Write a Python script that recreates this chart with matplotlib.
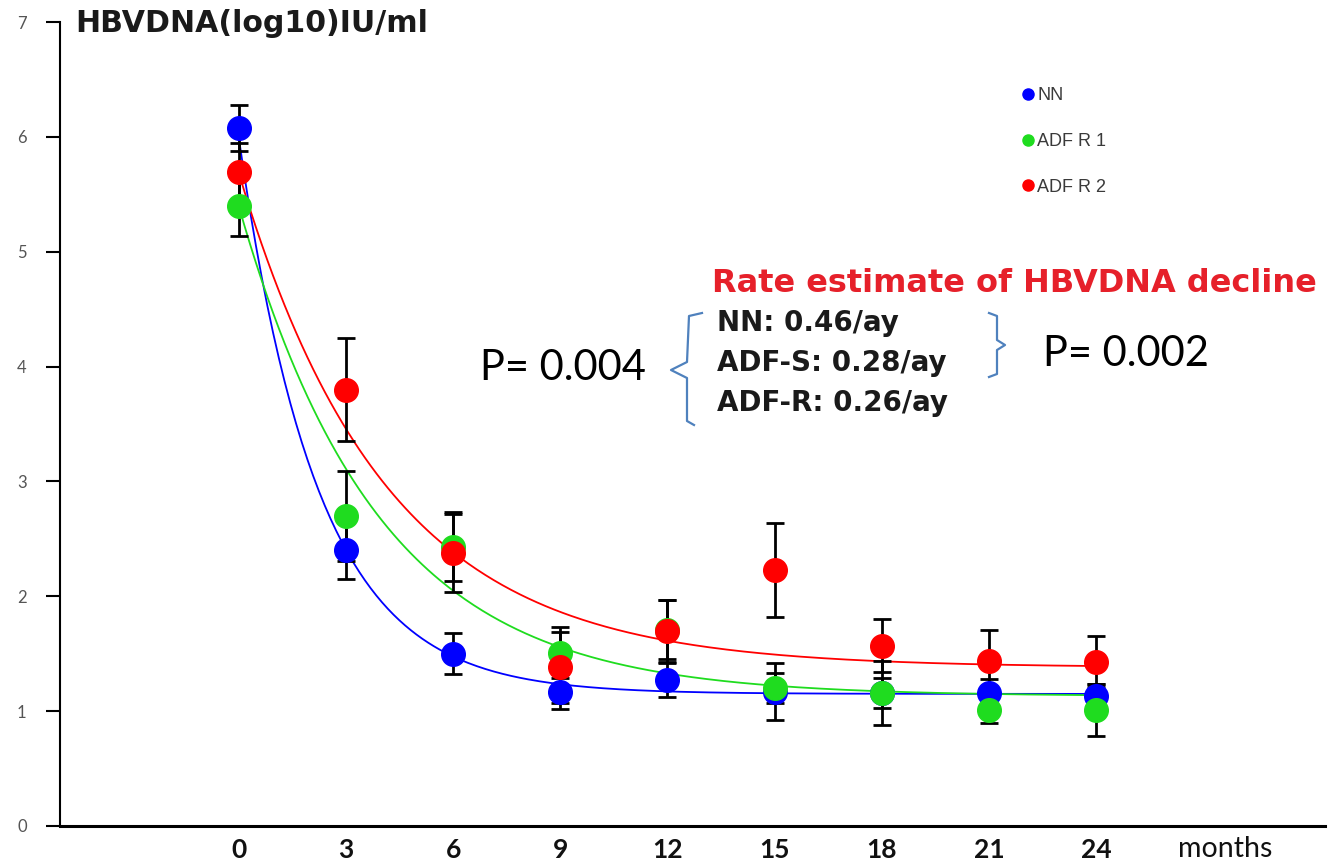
import numpy as np
import matplotlib
matplotlib.use('Agg')
import matplotlib.pyplot as plt
from matplotlib.lines import Line2D

# months and group means (log10 IU/ml)
months = [0, 3, 6, 9, 12, 15, 18, 21, 24]
nn = [6.08, 2.40, 1.50, 1.17, 1.27, 1.17, 1.16, 1.16, 1.13]
adf_r1 = [5.40, 2.70, 2.43, 1.51, 1.71, 1.20, 1.16, 1.01, 1.01]
adf_r2 = [5.69, 3.80, 2.38, 1.38, 1.70, 2.23, 1.57, 1.44, 1.43]

# error bar half widths
nn_err = [0.20, 0.25, 0.18, 0.15, 0.15, 0.25, 0.13, 0.12, 0.11]
adf_r1_err = [0.26, 0.39, 0.30, 0.22, 0.26, 0.13, 0.28, 0.11, 0.23]
adf_r2_err = [0.26, 0.45, 0.34, 0.31, 0.27, 0.41, 0.23, 0.27, 0.22]

# fitted decay curves: start value, plateau, rate per month
fit_nn = (6.00, 1.15, 0.45)
fit_r1 = (5.40, 1.13, 0.256)
fit_r2 = (5.69, 1.38, 0.243)

legend_labels = ['NN', 'ADF R 1', 'ADF R 2']
rate_lines = ['NN: 0.46/ay', 'ADF-S: 0.28/ay', 'ADF-R: 0.26/ay']

wide_bold = ['DejaVu Sans']
humanist = ['Lato', 'DejaVu Sans']

fig = plt.figure(figsize=(13.3, 8.65), dpi=100)
W, H = 1330, 865
ax = fig.add_axes([60 / W, 1 - 826 / H, (1325 - 60) / W, (826 - 22) / H])

blue, green, red = '#0000ff', '#1fdc1f', '#ff0000'
series = [(nn, nn_err, fit_nn, blue, 4), (adf_r1, adf_r1_err, fit_r1, green, 5),
          (adf_r2, adf_r2_err, fit_r2, red, 6)]

t = np.linspace(0, 24, 300)
for vals, errs, (y0, plat, k), col, z in series:
    ax.plot(t, plat + (y0 - plat) * np.exp(-k * t), color=col, lw=1.3, zorder=2)
    ax.errorbar(months, vals, yerr=errs, fmt='none', ecolor='black', elinewidth=2,
                capsize=6.5, capthick=2, zorder=3)
    ax.plot(months, vals, 'o', color=col, ms=17, mec=col, zorder=z)

ax.set_xlim(-5, 30.4)
ax.set_ylim(0, 7)
ax.spines['top'].set_visible(False)
ax.spines['right'].set_visible(False)
ax.spines['left'].set_linewidth(1.5)
ax.spines['bottom'].set_linewidth(2.2)
ax.set_xticks(months)
ax.set_xticklabels([str(m) for m in months], family=humanist, fontsize=19,
                   fontweight='bold', color='#111111')
ax.tick_params(axis='x', length=0, pad=9)
ax.set_yticks(range(0, 8))
ax.tick_params(axis='y', length=10, width=1.5, pad=14, labelsize=12, labelcolor='#555555')
for lab in ax.get_yticklabels():
    lab.set_family(humanist)
ax.text(27.6, -0.09, 'months', ha='center', va='top', fontsize=20.5,
        family=humanist, color='#111111', clip_on=False)

# legend
handles = [Line2D([], [], marker='o', ls='none', color=c, ms=8) for c in (blue, green, red)]
leg = fig.legend(handles, legend_labels, loc='upper left',
                 bbox_to_anchor=(1023 / W, 1 - 87 / H), frameon=False,
                 handlelength=0.5, handletextpad=0.3, labelspacing=1.6,
                 borderpad=0, borderaxespad=0,
                 prop={'family': ['Liberation Sans', 'DejaVu Sans'], 'size': 13})
for txt in leg.get_texts():
    txt.set_color('#3a3a3a')

# title and annotations
fig.text(75 / W, 1 - 24 / H, 'HBVDNA(log10)IU/ml', fontsize=21.6, fontweight='bold',
         family=wide_bold, color='#1a1a1a', va='center', ha='left')
fig.text(712 / W, 1 - 283 / H, 'Rate estimate of HBVDNA decline', fontsize=23,
         fontweight='bold', family=wide_bold, color='#e6202a', va='center', ha='left')
for i, s in enumerate(rate_lines):
    fig.text(717 / W, 1 - (323 + 40 * i) / H, s, fontsize=20, fontweight='bold',
             family=wide_bold, color='#1a1a1a', va='center', ha='left')
fig.text(480 / W, 1 - 368 / H, 'P= 0.004', fontsize=30, family=humanist,
         color='black', va='center', ha='left')
fig.text(1043 / W, 1 - 354 / H, 'P= 0.002', fontsize=30, family=humanist,
         color='black', va='center', ha='left')

# braces
brace_col = '#4f81bd'
left_brace = [(702, 313), (689, 316), (687, 362), (671, 370), (687, 378), (687, 421), (694, 425)]
right_brace = [(989, 313), (997, 316), (997, 340), (1005, 345), (997, 350), (997, 374), (989, 377)]
for pts in (left_brace, right_brace):
    xs = [p[0] / W for p in pts]
    ys = [1 - p[1] / H for p in pts]
    fig.add_artist(Line2D(xs, ys, color=brace_col, lw=1.6, transform=fig.transFigure))

fig.savefig('out.png', dpi=100)
